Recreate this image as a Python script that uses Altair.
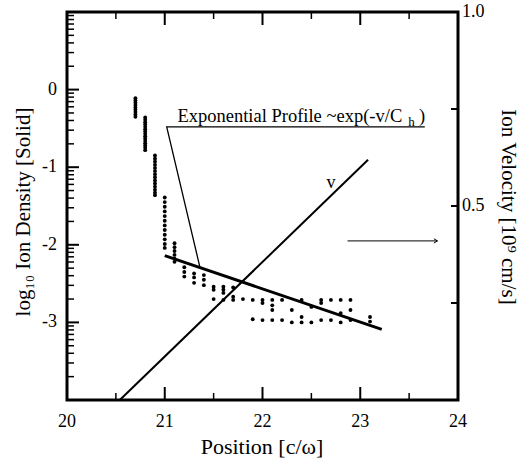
import altair as alt
import pandas as pd
import numpy as np

FONT = "Liberation Serif"
W, H = 391, 388

# ---- data ----
col_pos = [20.7, 20.8, 20.9, 21.0, 21.1, 21.2, 21.3, 21.4, 21.5, 21.6, 21.7, 21.8,
           21.9, 22.0, 22.1, 22.2, 22.3, 22.4, 22.5, 22.6, 22.7, 22.8, 22.9, 23.1]
col_vals = [
    [-0.11, -0.14, -0.17, -0.20, -0.23, -0.26, -0.29, -0.32, -0.35],
    [-0.36, -0.39, -0.42, -0.45, -0.48, -0.51, -0.54, -0.57, -0.60, -0.63, -0.66,
     -0.69, -0.72, -0.75, -0.78],
    [-0.85, -0.89, -0.93, -0.97, -1.01, -1.05, -1.09, -1.13, -1.17, -1.21, -1.25,
     -1.29, -1.33, -1.36],
    [-1.39, -1.45, -1.51, -1.57, -1.63, -1.69, -1.75, -1.81, -1.87, -1.93, -1.99, -2.04],
    [-1.98, -2.03, -2.08, -2.13, -2.18, -2.22],
    [-2.29, -2.35, -2.41],
    [-2.37, -2.42, -2.49],
    [-2.39, -2.45, -2.52],
    [-2.54, -2.58, -2.70],
    [-2.54, -2.58, -2.62, -2.71],
    [-2.55, -2.67, -2.71],
    [-2.70],
    [-2.71, -2.96],
    [-2.71, -2.75, -2.97],
    [-2.71, -2.78, -2.84, -2.97],
    [-2.71, -2.97],
    [-2.84, -3.00],
    [-2.71, -2.93, -3.00],
    [-2.80, -3.00],
    [-2.71, -2.75, -2.97],
    [-2.71, -2.97],
    [-2.71, -2.88, -3.00],
    [-2.71, -2.84, -2.97],
    [-2.93, -2.99],
]

exp_x = [21.0, 23.22]
exp_y = [-2.14, -3.09]

vel_x = [20.54, 23.08]
vel_v = [0.0, 0.619]

ann_x = [23.66, 21.02, 21.36]
ann_y = [-0.48, -0.48, -2.29]

arrow_x = [22.87, 23.79]
arrow_v = [0.41, 0.41]

x_labels = [20, 21, 22, 23, 24]
y_labels = [0, -1, -2, -3]
v_labels = [1.0, 0.5]
x_major = [21, 22, 23]
x_minor = [20.5, 21.5, 22.5, 23.5]
y_major = [0, -1, -2, -3]
y_minor = [d + np.log10(m) for d in [-4, -3, -2, -1, 0] for m in range(2, 10)]
v_ticks = [0.25, 0.5, 0.75]

x_title = "Position [c/ω]"
y_title = "log₁₀ Ion Density [Solid]"
v_title = "Ion Velocity [10⁹ cm/s]"

XDOM = [20, 24]
YDOM = [-4, 1]
VDOM = [0, 1]

xs = alt.Scale(domain=XDOM, nice=False, zero=False)
ys = alt.Scale(domain=YDOM, nice=False, zero=False)
vs = alt.Scale(domain=VDOM, nice=False, zero=False)

X = lambda: alt.X("x:Q", scale=xs, axis=None)
Y = lambda: alt.Y("y:Q", scale=ys, axis=None)
V = lambda: alt.Y("v:Q", scale=vs, axis=None)

dots = pd.DataFrame([(p, v) for p, vals in zip(col_pos, col_vals) for v in vals],
                    columns=["x", "y"])

dot_layer = alt.Chart(dots).mark_circle(size=15, color="black", opacity=1).encode(x=X(), y=Y())

exp_layer = alt.Chart(pd.DataFrame({"x": exp_x, "y": exp_y})).mark_line(
    color="black", strokeWidth=3).encode(x=X(), y=Y())

ann_layer = alt.Chart(pd.DataFrame({"x": ann_x, "y": ann_y, "o": [0, 1, 2]})).mark_line(
    color="black", strokeWidth=1.3).encode(x=X(), y=Y(), order="o:O")

def dtext(x, y, t, size, align="left"):
    return alt.Chart(pd.DataFrame({"x": [x], "y": [y], "t": [t]})).mark_text(
        font=FONT, fontSize=size, align=align, baseline="alphabetic", color="black").encode(
        x=X(), y=Y(), text="t:N")

txt_layer = dtext(21.13, -0.42, "Exponential Profile ~exp(-v/C", 18.5)
sub_layer = dtext(23.49, -0.47, "h", 13)
par_layer = dtext(23.60, -0.42, ")", 18.5)

def yticks(vals, length, sw):
    return alt.Chart(pd.DataFrame({"y": vals})).mark_rule(color="black", strokeWidth=sw).encode(
        y=Y(), x=alt.value(0), x2=alt.value(length))

def xticks(vals, y0, y1, sw):
    return alt.Chart(pd.DataFrame({"x": vals})).mark_rule(color="black", strokeWidth=sw).encode(
        x=X(), y=alt.value(y0), y2=alt.value(y1))

xlab = alt.Chart(pd.DataFrame({"x": x_labels, "t": [str(v) for v in x_labels]})).mark_text(
    font=FONT, fontSize=18, align="center", baseline="alphabetic", color="black").encode(
    x=X(), y=alt.value(H + 27), text="t:N")
ylab = alt.Chart(pd.DataFrame({"y": y_labels, "t": [str(v) for v in y_labels]})).mark_text(
    font=FONT, fontSize=18, align="right", baseline="middle", color="black").encode(
    y=Y(), x=alt.value(-10), text="t:N")

titles = alt.Chart(pd.DataFrame({"t": [x_title]})).mark_text(
    font=FONT, fontSize=22, align="center", baseline="middle", color="black").encode(
    x=alt.value(195), y=alt.value(H + 47), text="t:N")
ytitle = alt.Chart(pd.DataFrame({"t": [y_title]})).mark_text(
    font=FONT, fontSize=21, align="center", baseline="middle", color="black", angle=270).encode(
    x=alt.value(-43), y=alt.value(200), text="t:N")
vtitle = alt.Chart(pd.DataFrame({"t": [v_title]})).mark_text(
    font=FONT, fontSize=21, align="center", baseline="middle", color="black", angle=90).encode(
    x=alt.value(W + 50), y=alt.value(195), text="t:N")

dens = alt.layer(
    dot_layer, exp_layer, ann_layer, txt_layer, sub_layer, par_layer,
    yticks(y_major, 12, 2), yticks(y_minor, 7, 1.5),
    xticks(x_major, H, H - 13, 2), xticks(x_minor, H, H - 7, 1.5),
    xticks(x_major, 0, 13, 2), xticks(x_minor, 0, 7, 1.5),
    xlab, ylab, titles, ytitle, vtitle,
)

vel_layer = alt.Chart(pd.DataFrame({"x": vel_x, "v": vel_v})).mark_line(
    color="black", strokeWidth=2).encode(x=X(), y=V())

arrow_line = alt.Chart(pd.DataFrame({"x": arrow_x, "v": arrow_v})).mark_line(
    color="black", strokeWidth=1).encode(x=X(), y=V())
arrow_head = alt.Chart(pd.DataFrame({"x": arrow_x[1:], "v": arrow_v[1:]})).mark_point(
    shape="M-1,-0.6L0,0L-1,0.6", filled=False, color="black", strokeWidth=1, size=50,
    opacity=1).encode(x=X(), y=V())

vlab = alt.Chart(pd.DataFrame({"x": [22.70], "v": [0.56], "t": ["v"]})).mark_text(
    font=FONT, fontSize=18, color="black").encode(x=X(), y=V(), text="t:N")

vticks = alt.Chart(pd.DataFrame({"v": v_ticks})).mark_rule(color="black", strokeWidth=2).encode(
    y=V(), x=alt.value(W), x2=alt.value(W - 7))

vtlab = alt.Chart(pd.DataFrame({"v": v_labels, "t": [f"{v:.1f}" for v in v_labels]})).mark_text(
    font=FONT, fontSize=18, align="left", baseline="middle", color="black").encode(
    y=V(), x=alt.value(W + 4), text="t:N")

vel = alt.layer(vel_layer, arrow_line, arrow_head, vlab, vticks, vtlab)

chart = alt.layer(dens, vel).resolve_scale(y="independent").properties(
    width=W, height=H,
    autosize=alt.AutoSizeParams(type="none"),
    padding={"left": 67, "top": 12, "right": 72, "bottom": 67},
    background="white",
).configure_view(stroke="black", strokeWidth=3)

chart.save("out.html", embed_options={"renderer": "svg", "actions": False})
